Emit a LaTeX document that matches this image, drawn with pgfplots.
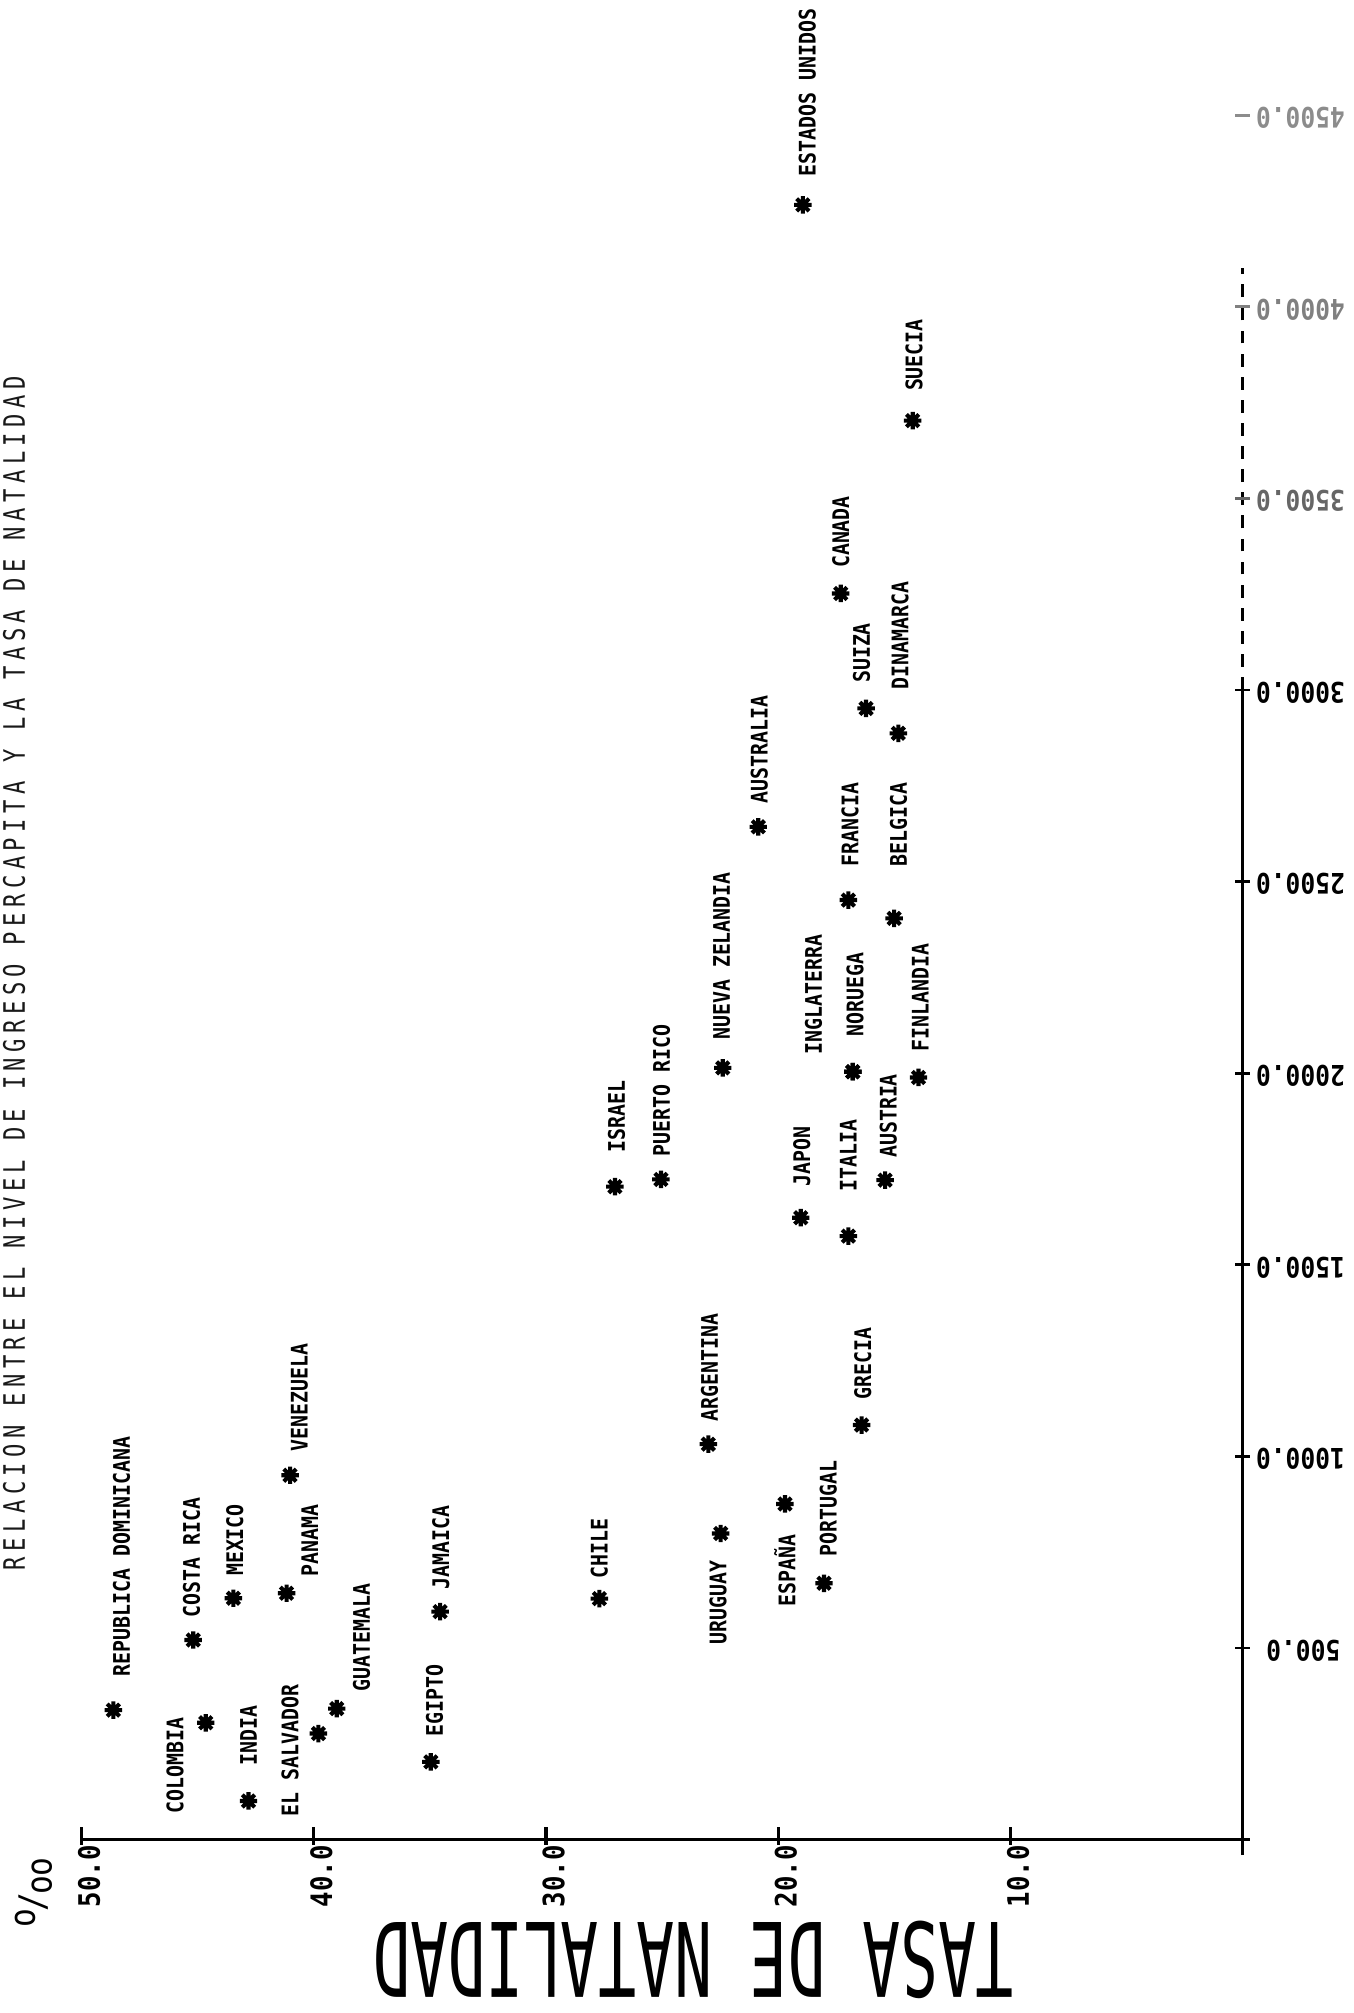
\documentclass[border=0pt]{standalone}
\usepackage{pgfplots}
\pgfplotsset{compat=1.18}
\usepackage{fontspec}
\usetikzlibrary{calc}
\newfontfamily\labfont[FakeStretch=0.87]{DejaVu Sans Mono}
\newfontfamily\tickfont[FakeStretch=0.87]{DejaVu Sans Mono}
\newfontfamily\bigfont[FakeStretch=0.61]{DejaVu Sans Mono}
\newfontfamily\titlefont[FakeStretch=0.75, LetterSpace=18.5]{DejaVu Sans Mono}
\pgfdeclareplotmark{ast8}{%
  \pgfpathmoveto{\pgfqpoint{0pt}{\pgfplotmarksize}}\pgfpathlineto{\pgfqpoint{0pt}{-\pgfplotmarksize}}%
  \pgfpathmoveto{\pgfqpoint{\pgfplotmarksize}{0pt}}\pgfpathlineto{\pgfqpoint{-\pgfplotmarksize}{0pt}}%
  \pgfpathmoveto{\pgfqpoint{0.7071\pgfplotmarksize}{0.7071\pgfplotmarksize}}\pgfpathlineto{\pgfqpoint{-0.7071\pgfplotmarksize}{-0.7071\pgfplotmarksize}}%
  \pgfpathmoveto{\pgfqpoint{0.7071\pgfplotmarksize}{-0.7071\pgfplotmarksize}}\pgfpathlineto{\pgfqpoint{-0.7071\pgfplotmarksize}{0.7071\pgfplotmarksize}}%
  \pgfusepathqstroke
  \pgfpathcircle{\pgfpointorigin}{0.5\pgfplotmarksize}%
  \pgfusepathqfill}
\tikzset{
  lab/.style={rotate=90, anchor=west, inner sep=0pt, font=\labfont\bfseries\fontsize{8.9}{10}\selectfont},
  btick/.style={rotate=90, anchor=east, inner sep=0pt, font=\tickfont\bfseries\fontsize{11.5}{12}\selectfont},
  rtick/.style={rotate=180, anchor=east, inner sep=0pt, font=\tickfont\bfseries\fontsize{11}{12}\selectfont},
}
\newcommand\lbl[5]{\node[lab] at ($(axis cs:#1,#2)+(#3*0.5pt,#4*0.5pt)$) {#5};}
\newcommand\btk[1]{\draw[line width=1.2pt] ($(axis cs:#1,0)+(0pt,-2pt)$) -- ($(axis cs:#1,0)+(0pt,5pt)$);
  \node[btick] at ($(axis cs:#1,0)+(3pt,-2pt)$) {#1.0};}
\newcommand\rtk[3]{\draw[line width=1.1pt, #3] ($(axis cs:0,#1)+(-3pt,0pt)$) -- ($(axis cs:0,#1)+(3pt,0pt)$);
  \node[rtick, text=#3] at ($(axis cs:0,#1)+(#2,-1pt)$) {#1.0};}
\begin{document}
\begin{tikzpicture}
\begin{axis}[
  scale only axis, width=527pt, height=784pt,
  x dir=reverse,
  xmin=-4.754, xmax=53.51, ymin=-452.3, ymax=4800.7,
  hide axis, clip=false,
]
% axes
\draw[line width=1.2pt] (axis cs:50,0) -- (axis cs:-0.3,0);
\draw[line width=1.3pt] (axis cs:0,-40) -- (axis cs:0,3000);
\draw[line width=1.1pt, dash pattern=on 5pt off 4pt] (axis cs:0,3000) -- (axis cs:0,4100);
% birth-rate ticks
\btk{10}\btk{20}\btk{30}\btk{40}\btk{50}
% income ticks
\rtk{500}{9pt}{black}
\rtk{1000}{5pt}{black}
\rtk{1500}{5pt}{black}
\rtk{2000}{5pt}{black}
\rtk{2500}{5pt}{black}
\rtk{3000}{5pt}{black}
\rtk{3500}{5pt}{black!60}
\rtk{4000}{5pt}{black!50}
\rtk{4500}{5pt}{black!45}
% axis title, per mille sign, chart title
\node[rotate=180, anchor=center, inner sep=0pt, font=\bigfont\fontsize{40}{42}\selectfont] at (axis cs:23.66,-314.9) {TASA DE NATALIDAD};
\node[rotate=90, anchor=center, inner sep=0pt, font=\labfont\fontsize{14}{15}\selectfont] at (axis cs:52.07,-137) {\raisebox{0.5ex}{o}\kern-0.1em/\kern-0.05em\raisebox{-0.35ex}{oo}};
\node[rotate=90, anchor=center, inner sep=0pt, text=black!90, font=\titlefont\fontsize{11.5}{12}\selectfont] at (axis cs:52.90,2261) {RELACION ENTRE EL NIVEL DE INGRESO PERCAPITA Y LA TASA DE NATALIDAD};
% data
\addplot[black, only marks, mark=ast8, mark size=3.4pt, line width=1.6pt] coordinates {
(48.63,338) (44.65,305) (45.19,521) (42.81,101) (43.46,630) (39.80,277)
(41.17,643) (39.01,342) (41.02,951) (34.96,203) (34.56,595) (27.70,629)
(22.48,799) (23.01,1032) (19.71,876) (18.03,669) (16.41,1082) (27.03,1704)
(25.05,1723) (22.39,2014) (19.03,1623) (16.98,1575) (16.79,2004) (16.79,2004)
(15.40,1721) (13.96,1989) (20.86,2643) (16.98,2452) (15.01,2404) (16.22,2952)
(14.83,2887) (17.31,3252) (18.94,4266) (14.21,3703)
};
% labels
\lbl{48.63}{338}{6.5}{26}{REPUBLICA DOMINICANA}
\lbl{44.65}{305}{-24}{-71}{COLOMBIA}
\lbl{45.19}{521}{-1.3}{17}{COSTA RICA}
\lbl{42.81}{101}{0}{27}{INDIA}
\lbl{43.46}{630}{1.2}{17}{MEXICO}
\lbl{39.80}{277}{-22}{-65}{EL SALVADOR}
\lbl{41.17}{643}{18}{13}{PANAMA}
\lbl{39.01}{342}{19.4}{13}{GUATEMALA}
\lbl{41.02}{951}{7.3}{18}{VENEZUELA}
\lbl{34.96}{203}{3}{19.5}{EGIPTO}
\lbl{34.56}{595}{0.5}{17}{JAMAICA}
\lbl{27.70}{629}{0}{15.6}{CHILE}
\lbl{22.48}{799}{-2}{-87}{URUGUAY}
\lbl{23.01}{1032}{1}{17.4}{ARGENTINA}
\lbl{19.71}{876}{0}{-80}{ESPAÑA}
\lbl{18.03}{669}{3.4}{20.8}{PORTUGAL}
\lbl{16.41}{1082}{1}{19.4}{GRECIA}
\lbl{27.03}{1704}{1.3}{26}{ISRAEL}
\lbl{25.05}{1723}{0.5}{17.7}{PUERTO RICO}
\lbl{22.39}{2014}{-0.8}{21.5}{NUEVA ZELANDIA}
\lbl{19.03}{1623}{0.8}{24}{JAPON}
\lbl{16.98}{1575}{0}{34.5}{ITALIA}
\lbl{16.79}{2004}{1.8}{27}{NORUEGA}
\lbl{16.79}{2004}{-30.6}{13}{INGLATERRA}
\lbl{15.40}{1721}{2.6}{17}{AUSTRIA}
\lbl{13.96}{1989}{1.3}{20}{FINLANDIA}
\lbl{20.86}{2643}{0.8}{18}{AUSTRALIA}
\lbl{16.98}{2452}{1.4}{26}{FRANCIA}
\lbl{15.01}{2404}{3.4}{40}{BELGICA}
\lbl{16.22}{2952}{-3.4}{19.5}{SUIZA}
\lbl{14.83}{2887}{1.3}{34}{DINAMARCA}
\lbl{17.31}{3252}{0}{19.5}{CANADA}
\lbl{18.94}{4266}{3.5}{22}{ESTADOS UNIDOS}
\lbl{14.21}{3703}{1}{22.7}{SUECIA}
\end{axis}
\pgfresetboundingbox
\path[use as bounding box] (current axis.south west) rectangle (current axis.north east);
\end{tikzpicture}
\end{document}
